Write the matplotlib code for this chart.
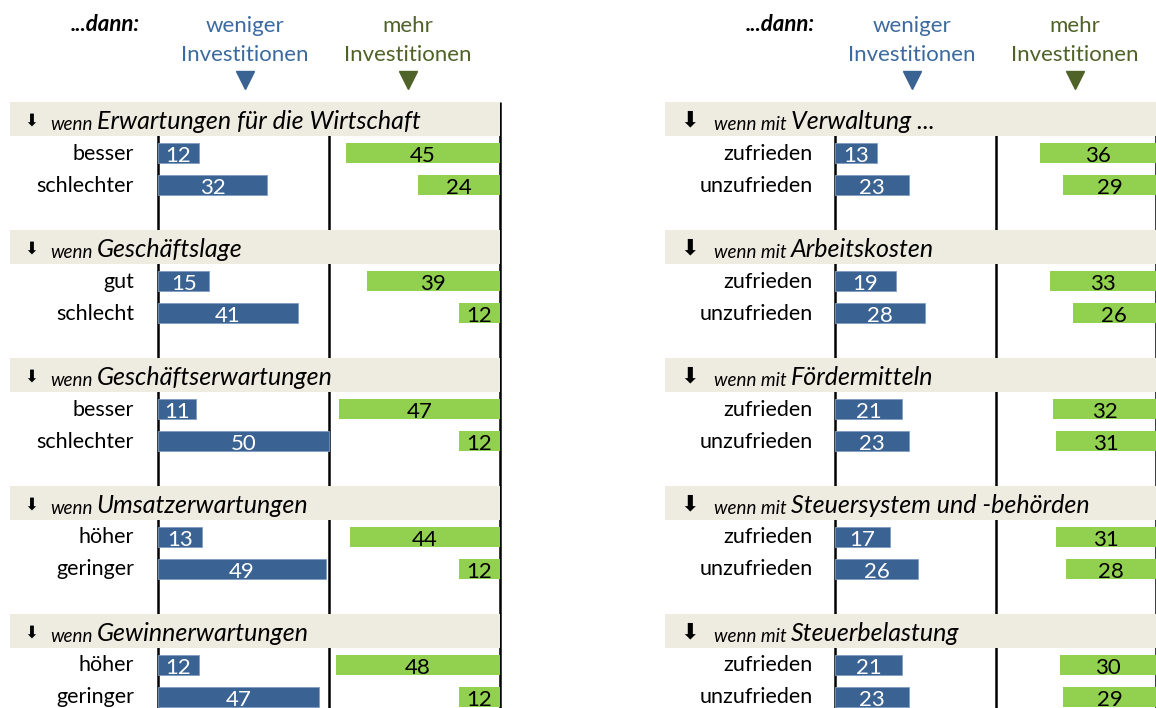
import matplotlib
matplotlib.use("Agg")
import numpy as np
import matplotlib.pyplot as plt

plt.rcParams['font.family'] = ['Lato', 'DejaVu Sans']

# data
left_groups = ["Erwartungen für die Wirtschaft", "Geschäftslage", "Geschäftserwartungen",
               "Umsatzerwartungen", "Gewinnerwartungen"]
left_cats = ["besser", "schlechter", "gut", "schlecht", "besser", "schlechter",
             "höher", "geringer", "höher", "geringer"]
left_weniger = [12, 32, 15, 41, 11, 50, 13, 49, 12, 47]
left_mehr = [45, 24, 39, 12, 47, 12, 44, 12, 48, 12]

right_groups = ["Verwaltung ...", "Arbeitskosten", "Fördermitteln",
                "Steuersystem und -behörden", "Steuerbelastung"]
right_cats = ["zufrieden", "unzufrieden"] * 5
right_weniger = [13, 23, 19, 28, 21, 23, 17, 26, 21, 23]
right_mehr = [36, 29, 33, 26, 32, 31, 31, 28, 30, 29]

BLUE = "#3a6293"
GREEN = "#92d050"
BAND = "#eeebe0"
BLUE_TXT = "#3d6a9e"
GREEN_TXT = "#4f6228"

W, H = 1156, 708
fig = plt.figure(figsize=(W / 100, H / 100), dpi=100)


def panel(rect, xlim, groups, cats, weniger, mehr, wenn, band_left,
          arrow_x, wenn_x, arrow_size, dann_x, head_x):
    ax = fig.add_axes(rect)
    ax.set_xlim(*xlim)
    ax.set_ylim(18.41, -3.72)
    ax.axis("off")

    ng = len(groups)
    # group header bands
    ax.barh(np.arange(ng) * 4, 100 - band_left, left=band_left, height=1.06,
            color=BAND, zorder=2)
    # vertical axis lines
    ax.vlines([0, 50, 100], -0.53, 18.41, color="black", lw=1.8, zorder=1)

    y = np.array([4 * g + off for g in range(ng) for off in (1.06, 2.06)])
    w = np.array(weniger)
    m = np.array(mehr)
    ax.barh(y, w, left=0, height=0.62, color=BLUE, edgecolor="#7f9cc2",
            lw=0.6, zorder=3)
    ax.barh(y, m, left=100 - m, height=0.62, color=GREEN, zorder=3)
    for yi, wi, mi, c in zip(y, w, m, cats):
        ax.text(wi / 2, yi + 0.1, str(wi), color="white", fontsize=16,
                ha="center", va="center", zorder=4)
        ax.text(100 - mi / 2, yi + 0.1, str(mi), color="black", fontsize=16,
                ha="center", va="center", zorder=4)
        ax.text(-7, yi + 0.02, c, color="black", fontsize=15.5, ha="right",
                va="center", zorder=4)

    for g, name in enumerate(groups):
        yy = 4 * g + 0.05
        ax.text(arrow_x, yy, "\u2b07", fontsize=arrow_size, ha="center",
                va="center", family="DejaVu Sans", zorder=4)
        t = ax.text(wenn_x, yy + 0.3, wenn, fontsize=13.5, style="italic",
                    ha="left", va="baseline", zorder=4)
        ax.annotate(name, xy=(1, 0), xycoords=t, xytext=(3, 0),
                    textcoords="offset points", fontsize=18, style="italic",
                    ha="left", va="bottom", zorder=4)

    # column headers
    ax.text(dann_x, -2.95, "...dann:", fontsize=16, style="italic",
            weight="bold", ha="right", va="center")
    ax.text(head_x[0], -2.9, "weniger", fontsize=16, color=BLUE_TXT,
            ha="center", va="center")
    ax.text(head_x[0], -1.99, "Investitionen", fontsize=16, color=BLUE_TXT,
            ha="center", va="center")
    ax.text(head_x[1], -2.9, "mehr", fontsize=16, color=GREEN_TXT,
            ha="center", va="center")
    ax.text(head_x[1], -1.99, "Investitionen", fontsize=16, color=GREEN_TXT,
            ha="center", va="center")
    ax.plot([head_x[0]], [-1.22], marker="v", ms=13, color=BLUE, ls="none")
    ax.plot([head_x[1]], [-1.22], marker="v", ms=13, color=GREEN_TXT, ls="none")
    return ax


# left panel: pixel 158 -> 0, 3.42 px per unit
panel([0, 0, 0.5, 1], ((0 - 158) / 3.42, (578 - 158) / 3.42),
      left_groups, left_cats, left_weniger, left_mehr, "wenn",
      band_left=(10 - 158) / 3.42, arrow_x=(31 - 158) / 3.42,
      wenn_x=(50 - 158) / 3.42, arrow_size=12,
      dann_x=(140 - 158) / 3.42, head_x=(25.4, 73.1))

# right panel: pixel 835 -> 0, 3.21 px per unit
panel([0.5, 0, 0.5, 1], ((578 - 835) / 3.21, 100),
      right_groups, right_cats, right_weniger, right_mehr, "wenn mit",
      band_left=(665 - 835) / 3.21, arrow_x=(690 - 835) / 3.21,
      wenn_x=(714 - 835) / 3.21, arrow_size=16,
      dann_x=(815 - 835) / 3.21, head_x=(24.0, 74.8))

fig.savefig("out.png", dpi=100)
